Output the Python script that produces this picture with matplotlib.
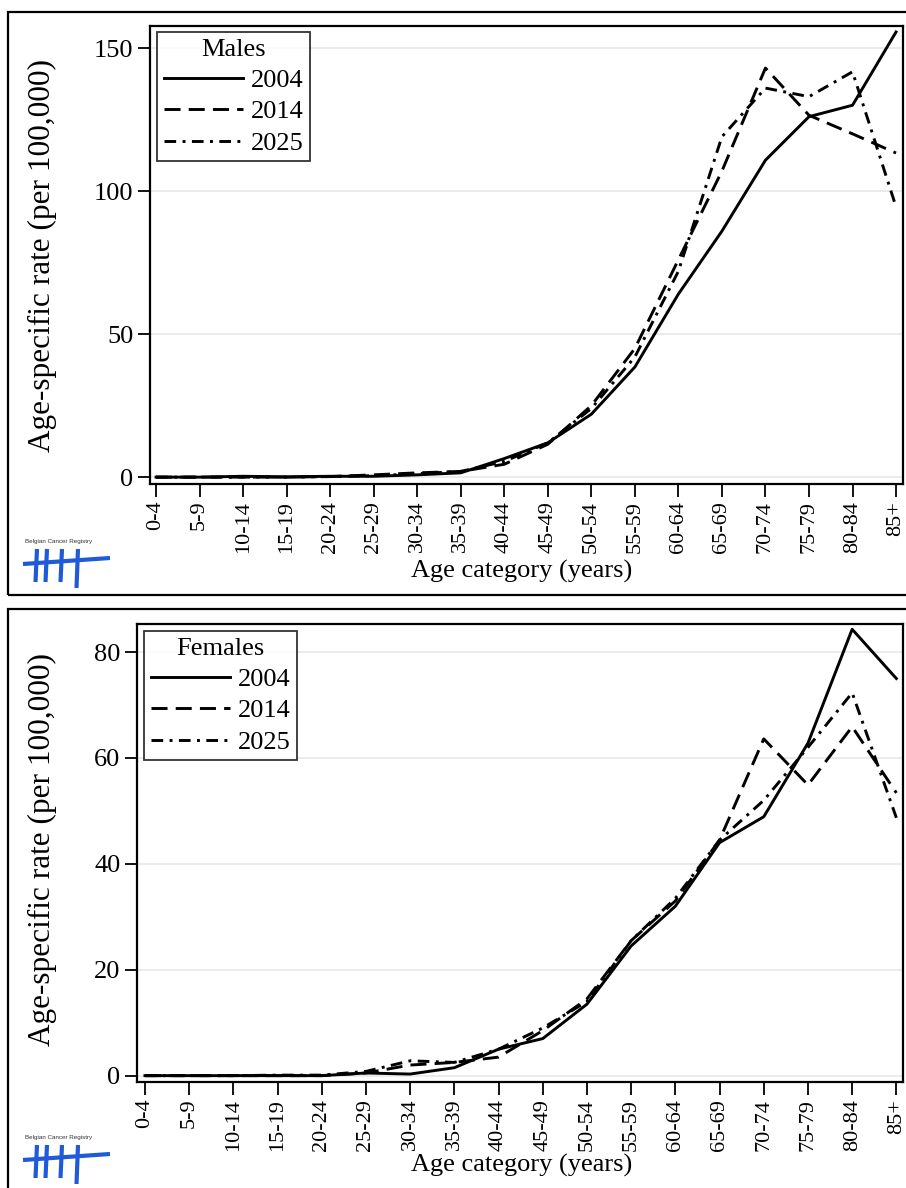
import matplotlib
matplotlib.use("Agg")
import matplotlib.pyplot as plt
from matplotlib.lines import Line2D
from matplotlib.patches import Rectangle

plt.rcParams["font.family"] = ["Liberation Serif", "DejaVu Serif"]

age_groups = ["0-4", "5-9", "10-14", "15-19", "20-24", "25-29", "30-34", "35-39",
              "40-44", "45-49", "50-54", "55-59", "60-64", "65-69", "70-74",
              "75-79", "80-84", "85+"]
years = ["2004", "2014", "2025"]

males_2004 = [0.0, 0.0, 0.3, 0.1, 0.3, 0.3, 0.8, 1.5, 6.5, 12.0, 22.0, 38.5,
              64.0, 86.0, 110.8, 126.0, 130.0, 155.6]
males_2014 = [0.0, 0.0, 0.0, 0.0, 0.2, 0.8, 1.5, 2.0, 4.5, 11.5, 25.0, 45.0,
              76.0, 107.0, 143.0, 126.5, 120.0, 113.3]
males_2025 = [0.0, 0.0, 0.0, 0.0, 0.2, 0.5, 1.2, 2.0, 5.5, 12.0, 24.0, 42.0,
              72.0, 119.0, 136.0, 133.0, 141.7, 94.5]

females_2004 = [0.0, 0.0, 0.0, 0.0, 0.0, 0.5, 0.3, 1.5, 5.0, 7.0, 13.5, 24.5,
                32.0, 44.0, 48.9, 62.8, 84.3, 75.0]
females_2014 = [0.0, 0.0, 0.0, 0.0, 0.0, 0.5, 2.0, 2.5, 3.5, 8.5, 14.5, 25.5,
                33.0, 44.5, 63.6, 54.9, 65.9, 53.4]
females_2025 = [0.0, 0.0, 0.0, 0.1, 0.1, 0.8, 2.8, 2.5, 5.0, 9.0, 14.0, 25.5,
                33.5, 44.5, 52.0, 62.0, 72.3, 48.7]

W, H = 906, 1188
fig = plt.figure(figsize=(W / 100, H / 100), dpi=100)


def px_rect(x0, y0, x1, y1):
    """Figure-fraction rectangle from pixel edges (origin top-left)."""
    return [x0 / W, 1 - y1 / H, (x1 - x0) / W, (y1 - y0) / H]


def fx(x):
    return x / W


def fy(y):
    return 1 - y / H


styles = [
    dict(linestyle="-"),
    dict(linestyle=(0, (5.5, 2.8))),
    dict(linestyle=(0, (4.0, 2.2, 1.0, 2.2))),
]


def draw_logo(top):
    fig.text(fx(25), fy(top), "Belgian Cancer Registry", fontsize=4.5,
             family=["Liberation Sans", "DejaVu Sans"], va="center", ha="left",
             color="#333333")
    blue = "#1f5ad8"
    y0 = top + 8
    for xs, extra in zip([37, 47, 62, 78], [0, 0, 0, 6]):
        fig.add_artist(Line2D([fx(xs), fx(xs - 1.5)], [fy(y0), fy(y0 + 33 + extra)],
                              color=blue, linewidth=3.0, solid_capstyle="butt",
                              transform=fig.transFigure))
    fig.add_artist(Line2D([fx(23), fx(110)], [fy(y0 + 15), fy(y0 + 9)],
                          color=blue, linewidth=3.0, solid_capstyle="butt",
                          transform=fig.transFigure))


def draw_panel(rect, series, title, ylim, yticks, box_top, box_bottom, xlim,
               ylab_y, xlab_y, logo_y, leg_anchor):
    # outer frame around the panel
    fig.patches.append(Rectangle((fx(8), fy(box_bottom)), 1.0, (box_bottom - box_top) / H,
                                 transform=fig.transFigure, fill=False,
                                 edgecolor="black", linewidth=1.6, zorder=0))
    ax = fig.add_axes(rect)
    x = list(range(len(age_groups)))
    for vals, yr, st in zip(series, years, styles):
        ax.plot(x, vals, color="black", linewidth=2.1, label=yr, **st)
    ax.set_xlim(*xlim)
    ax.set_ylim(*ylim)
    ax.set_yticks(yticks)
    ax.set_xticks(x)
    ax.set_xticklabels(age_groups, rotation=90, fontsize=16)
    ax.tick_params(axis="y", labelsize=19, length=9, width=1.3, direction="out", pad=3)
    ax.tick_params(axis="x", length=9, width=1.3, direction="out", pad=3)
    ax.grid(axis="y", color="#e8e8e8", linewidth=1.2)
    ax.set_axisbelow(True)
    for s in ax.spines.values():
        s.set_linewidth(1.6)
    leg = ax.legend(title=title, loc="upper left", bbox_to_anchor=leg_anchor,
                    borderaxespad=0, fontsize=19, title_fontsize=19,
                    frameon=True, fancybox=False, edgecolor="black",
                    handlelength=3.0, handletextpad=0.3, labelspacing=0.3,
                    borderpad=0.25)
    leg.get_frame().set_linewidth(1.3)
    fig.text(fx(42), fy(ylab_y), "Age-specific rate (per 100,000)", rotation=90,
             ha="center", va="center", fontsize=22.5)
    fig.text(fx(522), fy(xlab_y), "Age category (years)", ha="center", va="center",
             fontsize=19)
    draw_logo(logo_y)
    return ax


draw_panel(px_rect(150, 26, 903, 484), [males_2004, males_2014, males_2025], "Males",
           (-2.4, 157.7), [0, 50, 100, 150], 12, 595, (-0.14, 17.16), 255, 571, 541,
           (7 / 753, 1 - 6 / 458))
draw_panel(px_rect(137, 624, 903, 1082), [females_2004, females_2014, females_2025], "Females",
           (-1.2, 85.3), [0, 20, 40, 60, 80], 609, 1200, (-0.18, 17.15), 850, 1165, 1137,
           (7 / 766, 1 - 7 / 458))

fig.savefig("out.png", dpi=100)
